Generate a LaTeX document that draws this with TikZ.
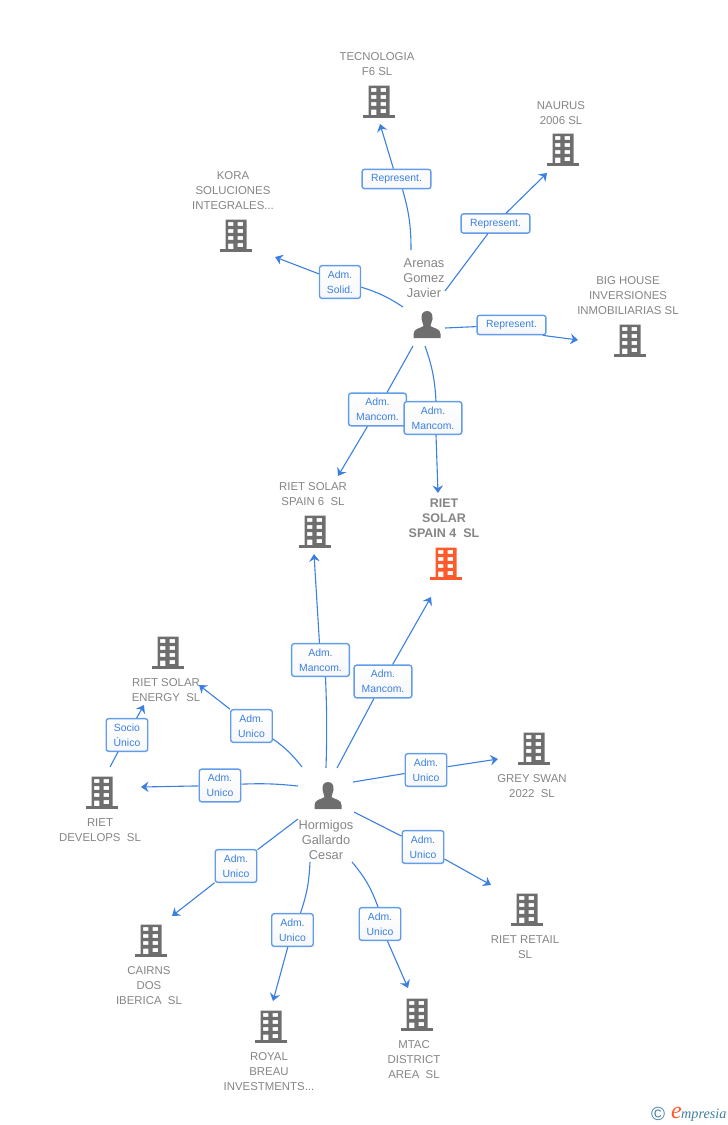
\documentclass[tikz,border=0pt]{standalone}
\usepackage{fontspec}
\setmainfont{Liberation Sans}
\newfontfamily\logofont{Liberation Serif}
\usetikzlibrary{arrows.meta}
\definecolor{linkblue}{HTML}{3B80E0}
\definecolor{tagblue}{HTML}{639DEA}
\definecolor{tagfill}{HTML}{F6F7F9}
\definecolor{icongray}{HTML}{6E6E6E}
\definecolor{namegray}{HTML}{858585}
\definecolor{mainorange}{HTML}{FF5A2B}
\definecolor{logoteal}{HTML}{3F7F9E}
\tikzset{
  link/.style={linkblue,line width=1.1pt},
  linkarrow/.style={link,-{Stealth[length=7.5pt,width=10.5pt,inset=2.5pt]}},
  tag/.style={draw=tagblue,line width=1.4pt,rounded corners=2.5pt,top color=white,bottom color=tagfill,text=linkblue,
    font=\fontsize{10.4}{15}\selectfont,align=center,inner xsep=7.5pt,inner ysep=5pt},
  tagwide/.style={tag,inner xsep=9pt},
  compname/.style={text=namegray,font=\fontsize{11.4}{15}\selectfont,align=center,inner sep=0pt,yshift=-1pt},
  persname/.style={compname,font=\fontsize{12.8}{15}\selectfont},
  iconspot/.style={inner sep=0pt,minimum size=0pt},
  pics/bldg/.style={code={
    \fill[#1,even odd rule] (-10.5,-16.5) rectangle (10.5,13.5)
      \foreach \wy in {-12,-5,2} {(-8,\wy-1.8) rectangle (-2.7,\wy+1.8) (1.7,\wy-1.8) rectangle (7,\wy+1.8)}
      (1.7,7.2) rectangle (7,11.2) (-8,7.5) rectangle (-2.7,13.5);
    \fill[#1] (-16,13) rectangle (16,15.5);
  }},
  pics/bldg/.default=icongray,
  pics/persona/.style={code={
    \fill[icongray] (0,-14) .. controls (-4.5,-14) and (-6,-10) .. (-5.5,-6)
      .. controls (-5,-2.5) and (-3.5,-1) .. (-3.5,1)
      .. controls (-7,3.5) and (-13.5,3.5) .. (-13.5,9) -- (-13.5,13) -- (13.5,13) -- (13.5,9)
      .. controls (13.5,3.5) and (7,3.5) .. (3.5,1)
      .. controls (3.5,-1) and (5,-2.5) .. (5.5,-6)
      .. controls (6,-10) and (4.5,-14) .. (0,-14) -- cycle;
  }}
}
\begin{document}
\begin{tikzpicture}[x=1pt,y=-1pt]
  \useasboundingbox (0,0) rectangle (728,1125);

  \foreach \n/\x/\y/\lx/\ly/\txt in {
      tecno/379/102/377/63.5/{TECNOLOGIA\\F6 SL},
      naurus/563/150/561/112.5/{NAURUS\\2006 SL},
      kora/236/236/233/190/{KORA\\SOLUCIONES\\INTEGRALES...},
      bighouse/630/341/628/295/{BIG HOUSE\\INVERSIONES\\INMOBILIARIAS SL},
      spainsix/315/532/313/493.5/{RIET SOLAR\\SPAIN 6\ \ SL},
      energy/168/653/166/689.5/{RIET SOLAR\\ENERGY\ \ SL},
      develops/102/793/100/829.5/{RIET\\DEVELOPS\ \ SL},
      greyswan/534/749/532/785.5/{GREY SWAN\\2022\ \ SL},
      retail/527/910/525/946.5/{RIET RETAIL\\SL},
      cairns/151/941/149/985/{CAIRNS\\DOS\\IBERICA\ \ SL},
      royal/271/1027/269/1071/{ROYAL\\BREAU\\INVESTMENTS...},
      mtac/417/1015/414/1059/{MTAC\\DISTRICT\\AREA\ \ SL}} {
    \node[iconspot] (\n) at (\x,\y) {};
    \pic at (\n) {bldg};
    \node[compname] (\n name) at (\lx,\ly) {\txt};
  }

  \node[iconspot] (spainfour) at (446,564) {};
  \pic at (spainfour) {bldg=mainorange};
  \node[compname,font=\fontsize{12.5}{15}\selectfont\bfseries] (spainfour name) at (444,517) {RIET\\SOLAR\\SPAIN 4\ \ SL};

  \node[iconspot] (arenas) at (427,325) {};
  \pic at (arenas) {persona};
  \node[persname] (arenas name) at (424,277) {Arenas\\Gomez\\Javier};
  \node[iconspot] (hormigos) at (328,796) {};
  \pic at (hormigos) {persona};
  \node[persname] (hormigos name) at (326,839) {Hormigos\\Gallardo\\Cesar};

  % free ends next to the icons
  \foreach \n/\x/\y in {
      aTecno/411/250, tTecno/380/124, aNaurus/445/291, tNaurus/547/173,
      aKora/403/307, tKora/275/257, aBig/445/328, tBig/578/340,
      aSix/413/346, tSix/338/476, aFour/425/346, tFour/438/493,
      hSix/326/768, hsSix/314/554, hFour/337/768, hsFour/431/597,
      hEnergy/302/767, tEnergy/199/685, hDev/298/786, tDev/141/787,
      dSocio/110/767, tSocio/144/705, hGrey/353/782, tGrey/498/759,
      hRetail/354/812, tRetail/491/885, hCairns/298/819, tCairns/172/916,
      hRoyal/310/862, tRoyal/273/1001, hMtac/352/862, tMtac/408/988} {
    \coordinate (\n) at (\x,\y);
  }

  \foreach \n/\x/\y in {lTecno/396.5/179, lNaurus/495.5/223.5, lBig/511.5/325} {
    \node[tagwide] (\n) at (\x,\y) {Represent.};
  }
  \foreach \n/\x/\y/\txt in {
      lKora/340/282/{Adm.\\Solid.},
      lSix/377.5/409.5/{Adm.\\Mancom.},
      lFour/433/418/{Adm.\\Mancom.},
      lhFour/383/681.5/{Adm.\\Mancom.},
      lhSix/320.5/660/{Adm.\\Mancom.},
      lEnergy/251.5/726/{Adm.\\Unico},
      lSocio/127/735/{Socio\\Único},
      lDev/220/785.5/{Adm.\\Unico},
      lGrey/426/770/{Adm.\\Unico},
      lRetail/423/847/{Adm.\\Unico},
      lCairns/236/866/{Adm.\\Unico},
      lRoyal/292.5/930/{Adm.\\Unico},
      lMtac/380/924/{Adm.\\Unico}} {
    \node[tag] (\n) at (\x,\y) {\txt};
  }

  \draw[link] (aTecno) to[bend right=8] ([xshift=6pt]lTecno.south);
  \draw[linkarrow] (lTecno) -- (tTecno);
  \draw[link] (aNaurus) -- (lNaurus);
  \draw[linkarrow] (lNaurus) -- (tNaurus);
  \draw[link] (aKora) to[bend right=8] (lKora);
  \draw[linkarrow] (lKora) -- (tKora);
  \draw[link] (aBig) -- (lBig);
  \draw[linkarrow] ([xshift=-4pt]lBig.south east) -- (tBig);
  \draw[link] (aSix) -- (lSix);
  \draw[linkarrow] (lSix) -- (tSix);
  \draw[link] (aFour) to[bend left=8] ([xshift=3pt]lFour.north);
  \draw[linkarrow] ([xshift=3pt]lFour.south) -- (tFour);
  \draw[link] (hSix) to[bend right=2] ([xshift=5pt]lhSix.south);
  \draw[linkarrow] (lhSix) -- (hsSix);
  \draw[link] (hFour) -- (lhFour);
  \draw[linkarrow] (lhFour) -- (hsFour);
  \draw[link] (hEnergy) to[bend right=8] (lEnergy);
  \draw[linkarrow] (lEnergy) -- (tEnergy);
  \draw[link] (hDev) to[bend right=4] (lDev);
  \draw[linkarrow] (lDev) -- (tDev);
  \draw[link] (dSocio) -- (lSocio);
  \draw[linkarrow] (lSocio) -- (tSocio);
  \draw[link] (hGrey) -- (lGrey);
  \draw[linkarrow] (lGrey) -- (tGrey);
  \draw[link] (hRetail) -- (lRetail);
  \draw[linkarrow] (lRetail) -- (tRetail);
  \draw[link] (hCairns) -- (lCairns);
  \draw[linkarrow] (lCairns) -- (tCairns);
  \draw[link] (hRoyal) to[bend left=8] ([xshift=8pt]lRoyal.north);
  \draw[linkarrow] (lRoyal) -- (tRoyal);
  \draw[link] (hMtac) to[bend left=10] ([xshift=-2pt]lMtac.north);
  \draw[linkarrow] (lMtac) -- (tMtac);

  \node[text=logoteal,font=\fontsize{19}{19}\selectfont,inner sep=0pt] (copyr) at (658,1114) {©};
  \node[text=mainorange,font=\logofont\itshape\fontsize{24}{24}\selectfont,inner sep=0pt,anchor=base west] (logoe) at (671,1118) {e};
  \node[text=logoteal,font=\logofont\itshape\fontsize{14.2}{14.2}\selectfont,inner sep=0pt,anchor=base west] (logoname) at (681,1118) {mpresia};
\end{tikzpicture}
\end{document}
